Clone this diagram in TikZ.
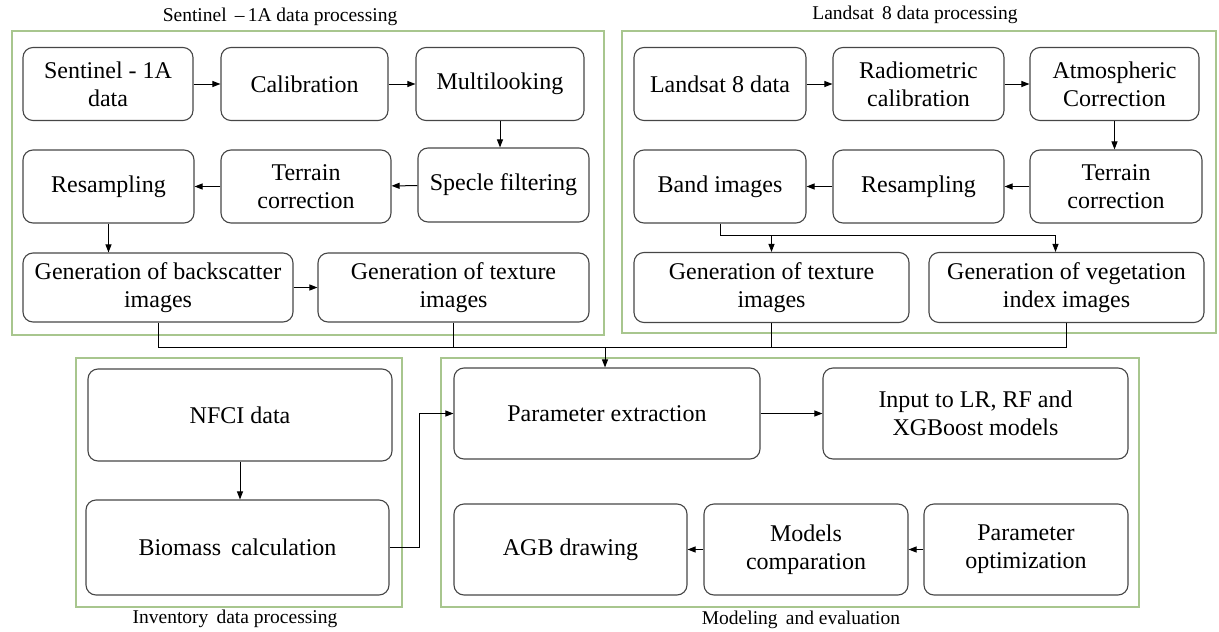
\documentclass[tikz,border=0pt]{standalone}
\usepackage{fontspec}
\setmainfont{Liberation Serif}
\usetikzlibrary{shapes,arrows.meta}
\definecolor{framegreen}{RGB}{168,198,142}
\definecolor{boxgray}{RGB}{70,70,70}
\tikzset{%
	block/.style    	= {draw=boxgray, line width=1.1pt, rectangle, rounded corners=10pt, align=center, inner sep=2pt, font=\fontsize{24}{28}\selectfont}, % Processing step
	bsize/.style 2 args	= {minimum width=#1pt, minimum height=#2pt}, % Block size
	frame/.style		= {draw=framegreen, line width=1.1pt}, % Group frame
	grouptitle/.style	= {font=\fontsize{19.5}{22}\selectfont}, % Group title
	link/.style			= {line width=1pt} % Connector
}

\begin{document}
\begin{tikzpicture}[x=1pt, y=-1pt, >={Triangle[length=8pt, width=6pt]}]
	\useasboundingbox (0,0) rectangle (1219,632);
	% Drawing the group frames
	\draw[frame] (12,31) rectangle (604,335);
	\draw[frame] (622,31) rectangle (1216,333);
	\draw[frame] (76,358) rectangle (402,607);
	\draw[frame] (441,358) rectangle (1139,607);
	\draw
	node[grouptitle] at (280,17) (tsen) {Sentinel \,\textendash\,1A data processing}
	node[grouptitle] at (915,15) (tlan) {Landsat\, 8 data processing}
	node[grouptitle] at (235,619) (tinv) {Inventory\, data processing}
	node[grouptitle] at (801,620) (tmod) {Modeling\, and evaluation}
	;

	% Drawing the Sentinel - 1A steps
	\draw
	node[block, bsize={170}{73}] at (108,84) (sen) {Sentinel - 1A\\data}
	node[block, bsize={167}{73}] at (304.5,84) (cal) {Calibration}
	node[block, bsize={168}{73}] at (500,84) (mul) {Multilooking}
	node[block, bsize={171}{74}] at (503.5,185) (spe) {Specle filtering}
	node[block, bsize={170}{73}] at (306,186.5) (ter) {Terrain\\correction}
	node[block, bsize={171}{73}] at (108.5,186.5) (res) {Resampling}
	node[block, bsize={270}{69}] at (158,287.5) (bsc) {Generation of backscatter\\images}
	node[block, bsize={271}{69}] at (453.5,287.5) (tx1) {Generation of texture\\images}
	;

	% Drawing the Landsat 8 steps
	\draw
	node[block, bsize={172}{73}] at (720,84) (lan) {Landsat 8 data}
	node[block, bsize={171}{73}] at (918.5,84) (rad) {Radiometric\\calibration}
	node[block, bsize={169}{73}] at (1114.5,84) (atm) {Atmospheric\\Correction}
	node[block, bsize={172}{73}] at (1116,186.5) (tc2) {Terrain\\correction}
	node[block, bsize={171}{73}] at (918.5,186.5) (rs2) {Resampling}
	node[block, bsize={172}{73}] at (720,186.5) (bnd) {Band images}
	node[block, bsize={275}{70}] at (771.5,287.5) (tx2) {Generation of texture\\images}
	node[block, bsize={275}{70}] at (1066.5,287.5) (veg) {Generation of vegetation\\index images}
	;

	% Drawing the inventory and modeling steps
	\draw
	node[block, bsize={304}{92}] at (240,415) (nfc) {NFCI data}
	node[block, bsize={303}{95}] at (237.5,547.5) (bio) {Biomass\, calculation}
	node[block, bsize={306}{91}] at (607,413.5) (pex) {Parameter extraction}
	node[block, bsize={305}{91}] at (975.5,413.5) (inp) {Input to LR, RF and\\XGBoost models}
	node[block, bsize={233}{91}] at (570.5,549.5) (agb) {AGB drawing}
	node[block, bsize={204}{91}] at (806,549.5) (mod) {Models\\comparation}
	node[block, bsize={204}{91}] at (1026,549.5) (pop) {Parameter\\optimization}
	;
	\coordinate (hub) at (605,347);

	% Drawing the arrows
	\draw[link, ->] (sen) -- (cal);
	\draw[link, ->] (cal) -- (mul);
	\draw[link, ->] (mul.south) -- (mul.south |- spe.north);
	\draw[link, ->] (spe) -- (ter);
	\draw[link, ->] (ter) -- (res);
	\draw[link, ->] (res.south) -- (res.south |- bsc.north);
	\draw[link, ->] (bsc) -- (tx1);
	\draw[link, ->] (lan) -- (rad);
	\draw[link, ->] (rad) -- (atm);
	\draw[link, ->] (atm.south) -- (atm.south |- tc2.north);
	\draw[link, ->] (tc2) -- (rs2);
	\draw[link, ->] (rs2) -- (bnd);
	\draw[link] (bnd.south) -- ++(0,12) coordinate (bj);
	\draw[link, ->] (bj) -| (tx2.north);
	\draw[link, ->] (bj) -| ([xshift=-11pt]veg.north);
	\draw[link] (bsc.south) |- (veg.south |- hub) -- (veg.south);
	\draw[link] (tx1.south) -- (tx1.south |- hub);
	\draw[link] (tx2.south) -- (tx2.south |- hub);
	\draw[link, ->] (hub) -- (hub |- pex.north);
	\draw[link, ->] (nfc.south) -- (nfc.south |- bio.north);
	\draw[link, ->] (bio.east) -- ++(30,0) |- (pex.west);
	\draw[link, ->] (pex) -- (inp);
	\draw[link, ->] (pop) -- (mod);
	\draw[link, ->] (mod) -- (agb);
\end{tikzpicture}
\end{document}
